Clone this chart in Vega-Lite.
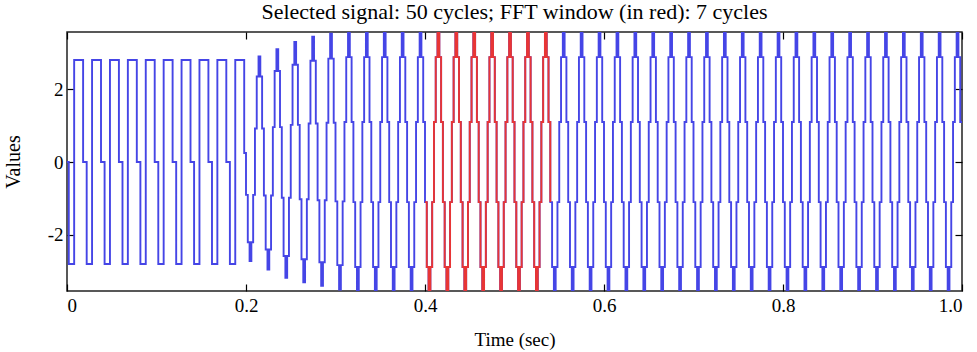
{
"$schema": "https://vega.github.io/schema/vega-lite/v6.json",
"width": 895, "height": 259,
"autosize": {"type": "none"},
"padding": {"left": 67, "top": 32, "right": 15, "bottom": 61},
"background": "white",
"title": {"text": "Selected signal: 50 cycles; FFT window (in red): 7 cycles", "font": "Liberation Serif", "fontSize": 22, "fontWeight": "normal", "color": "black", "offset": 7},
"config": {"view": {"stroke": "#222", "strokeWidth": 1.5}, "axis": {"labelFont": "Liberation Serif", "titleFont": "Liberation Serif", "labelFontSize": 19, "titleFontSize": 19, "titleFontWeight": "normal", "labelColor": "black", "titleColor": "black", "grid": false, "domain": false, "ticks": true, "tickColor": "black", "tickWidth": 1.2, "tickSize": 7, "offset": -7, "zindex": 2}},
"data": {"values": [
{"t":0.000,"v":0},{"t":0.002,"v":-2.8},{"t":0.004,"v":-2.8},{"t":0.006,"v":-2.8},{"t":0.008,"v":2.8},{"t":0.010,"v":2.8},{"t":0.012,"v":2.8},{"t":0.014,"v":2.8},{"t":0.016,"v":2.8},{"t":0.018,"v":0},
{"t":0.020,"v":0},{"t":0.022,"v":-2.8},{"t":0.024,"v":-2.8},{"t":0.026,"v":-2.8},{"t":0.028,"v":2.8},{"t":0.030,"v":2.8},{"t":0.032,"v":2.8},{"t":0.034,"v":2.8},{"t":0.036,"v":2.8},{"t":0.038,"v":0},
{"t":0.040,"v":0},{"t":0.042,"v":-2.8},{"t":0.044,"v":-2.8},{"t":0.046,"v":-2.8},{"t":0.048,"v":2.8},{"t":0.050,"v":2.8},{"t":0.052,"v":2.8},{"t":0.054,"v":2.8},{"t":0.056,"v":2.8},{"t":0.058,"v":0},
{"t":0.060,"v":0},{"t":0.062,"v":-2.8},{"t":0.064,"v":-2.8},{"t":0.066,"v":-2.8},{"t":0.068,"v":2.8},{"t":0.070,"v":2.8},{"t":0.072,"v":2.8},{"t":0.074,"v":2.8},{"t":0.076,"v":2.8},{"t":0.078,"v":0},
{"t":0.080,"v":0},{"t":0.082,"v":-2.8},{"t":0.084,"v":-2.8},{"t":0.086,"v":-2.8},{"t":0.088,"v":2.8},{"t":0.090,"v":2.8},{"t":0.092,"v":2.8},{"t":0.094,"v":2.8},{"t":0.096,"v":2.8},{"t":0.098,"v":0},
{"t":0.100,"v":0},{"t":0.102,"v":-2.8},{"t":0.104,"v":-2.8},{"t":0.106,"v":-2.8},{"t":0.108,"v":2.8},{"t":0.110,"v":2.8},{"t":0.112,"v":2.8},{"t":0.114,"v":2.8},{"t":0.116,"v":2.8},{"t":0.118,"v":0},
{"t":0.120,"v":0},{"t":0.122,"v":-2.8},{"t":0.124,"v":-2.8},{"t":0.126,"v":-2.8},{"t":0.128,"v":2.8},{"t":0.130,"v":2.8},{"t":0.132,"v":2.8},{"t":0.134,"v":2.8},{"t":0.136,"v":2.8},{"t":0.138,"v":0},
{"t":0.140,"v":0},{"t":0.142,"v":-2.8},{"t":0.144,"v":-2.8},{"t":0.146,"v":-2.8},{"t":0.148,"v":2.8},{"t":0.150,"v":2.8},{"t":0.152,"v":2.8},{"t":0.154,"v":2.8},{"t":0.156,"v":2.8},{"t":0.158,"v":0},
{"t":0.160,"v":0},{"t":0.162,"v":-2.8},{"t":0.164,"v":-2.8},{"t":0.166,"v":-2.8},{"t":0.168,"v":2.8},{"t":0.170,"v":2.8},{"t":0.172,"v":2.8},{"t":0.174,"v":2.8},{"t":0.176,"v":2.8},{"t":0.178,"v":0},
{"t":0.180,"v":0},{"t":0.182,"v":-2.8},{"t":0.184,"v":-2.8},{"t":0.186,"v":-2.8},{"t":0.188,"v":2.8},{"t":0.190,"v":2.8},{"t":0.192,"v":2.8},{"t":0.194,"v":2.8},{"t":0.196,"v":2.8},{"t":0.198,"v":0.25},
{"t":0.200,"v":-0.9},{"t":0.202,"v":-2.2},{"t":0.204,"v":-2.72},{"t":0.206,"v":-2.2},{"t":0.208,"v":-0.9},{"t":0.210,"v":0.92},{"t":0.212,"v":2.35},{"t":0.214,"v":2.9},{"t":0.216,"v":2.35},{"t":0.218,"v":0.92},
{"t":0.220,"v":-0.92},{"t":0.222,"v":-2.4},{"t":0.224,"v":-2.95},{"t":0.226,"v":-2.4},{"t":0.228,"v":-0.92},{"t":0.230,"v":0.96},{"t":0.232,"v":2.5},{"t":0.234,"v":3.1},{"t":0.236,"v":2.5},{"t":0.238,"v":0.96},
{"t":0.240,"v":-0.98},{"t":0.242,"v":-2.58},{"t":0.244,"v":-3.18},{"t":0.246,"v":-2.58},{"t":0.248,"v":-0.98},{"t":0.250,"v":1.02},{"t":0.252,"v":2.67},{"t":0.254,"v":3.3},{"t":0.256,"v":2.67},{"t":0.258,"v":1.02},
{"t":0.260,"v":-1.02},{"t":0.262,"v":-2.67},{"t":0.264,"v":-3.3},{"t":0.266,"v":-2.67},{"t":0.268,"v":-1.02},{"t":0.270,"v":1.06},{"t":0.272,"v":2.78},{"t":0.274,"v":3.44},{"t":0.276,"v":2.78},{"t":0.278,"v":1.06},
{"t":0.280,"v":-1.05},{"t":0.282,"v":-2.75},{"t":0.284,"v":-3.4},{"t":0.286,"v":-2.75},{"t":0.288,"v":-1.05},{"t":0.290,"v":1.08},{"t":0.292,"v":2.84},{"t":0.294,"v":3.52},{"t":0.296,"v":2.84},{"t":0.298,"v":1.08},
{"t":0.300,"v":-1.08},{"t":0.302,"v":-2.83},{"t":0.304,"v":-3.5},{"t":0.306,"v":-2.83},{"t":0.308,"v":-1.08},{"t":0.310,"v":1.1},{"t":0.312,"v":2.88},{"t":0.314,"v":3.56},{"t":0.316,"v":2.88},{"t":0.318,"v":1.1},
{"t":0.320,"v":-1.1},{"t":0.322,"v":-2.88},{"t":0.324,"v":-3.55},{"t":0.326,"v":-2.88},{"t":0.328,"v":-1.1},{"t":0.330,"v":1.1},{"t":0.332,"v":2.88},{"t":0.334,"v":3.56},{"t":0.336,"v":2.88},{"t":0.338,"v":1.1},
{"t":0.340,"v":-1.1},{"t":0.342,"v":-2.88},{"t":0.344,"v":-3.55},{"t":0.346,"v":-2.88},{"t":0.348,"v":-1.1},{"t":0.350,"v":1.1},{"t":0.352,"v":2.88},{"t":0.354,"v":3.56},{"t":0.356,"v":2.88},{"t":0.358,"v":1.1},
{"t":0.360,"v":-1.1},{"t":0.362,"v":-2.88},{"t":0.364,"v":-3.55},{"t":0.366,"v":-2.88},{"t":0.368,"v":-1.1},{"t":0.370,"v":1.1},{"t":0.372,"v":2.88},{"t":0.374,"v":3.56},{"t":0.376,"v":2.88},{"t":0.378,"v":1.1},
{"t":0.380,"v":-1.1},{"t":0.382,"v":-2.88},{"t":0.384,"v":-3.55},{"t":0.386,"v":-2.88},{"t":0.388,"v":-1.1},{"t":0.390,"v":1.1},{"t":0.392,"v":2.88},{"t":0.394,"v":3.56},{"t":0.396,"v":2.88},{"t":0.398,"v":1.1},
{"t":0.400,"v":-1.1},{"t":0.402,"v":-2.88},{"t":0.404,"v":-3.55},{"t":0.406,"v":-2.88},{"t":0.408,"v":-1.1},{"t":0.410,"v":1.1},{"t":0.412,"v":2.88},{"t":0.414,"v":3.56},{"t":0.416,"v":2.88},{"t":0.418,"v":1.1},
{"t":0.420,"v":-1.1},{"t":0.422,"v":-2.88},{"t":0.424,"v":-3.55},{"t":0.426,"v":-2.88},{"t":0.428,"v":-1.1},{"t":0.430,"v":1.1},{"t":0.432,"v":2.88},{"t":0.434,"v":3.56},{"t":0.436,"v":2.88},{"t":0.438,"v":1.1},
{"t":0.440,"v":-1.1},{"t":0.442,"v":-2.88},{"t":0.444,"v":-3.55},{"t":0.446,"v":-2.88},{"t":0.448,"v":-1.1},{"t":0.450,"v":1.1},{"t":0.452,"v":2.88},{"t":0.454,"v":3.56},{"t":0.456,"v":2.88},{"t":0.458,"v":1.1},
{"t":0.460,"v":-1.1},{"t":0.462,"v":-2.88},{"t":0.464,"v":-3.55},{"t":0.466,"v":-2.88},{"t":0.468,"v":-1.1},{"t":0.470,"v":1.1},{"t":0.472,"v":2.88},{"t":0.474,"v":3.56},{"t":0.476,"v":2.88},{"t":0.478,"v":1.1},
{"t":0.480,"v":-1.1},{"t":0.482,"v":-2.88},{"t":0.484,"v":-3.55},{"t":0.486,"v":-2.88},{"t":0.488,"v":-1.1},{"t":0.490,"v":1.1},{"t":0.492,"v":2.88},{"t":0.494,"v":3.56},{"t":0.496,"v":2.88},{"t":0.498,"v":1.1},
{"t":0.500,"v":-1.1},{"t":0.502,"v":-2.88},{"t":0.504,"v":-3.55},{"t":0.506,"v":-2.88},{"t":0.508,"v":-1.1},{"t":0.510,"v":1.1},{"t":0.512,"v":2.88},{"t":0.514,"v":3.56},{"t":0.516,"v":2.88},{"t":0.518,"v":1.1},
{"t":0.520,"v":-1.1},{"t":0.522,"v":-2.88},{"t":0.524,"v":-3.55},{"t":0.526,"v":-2.88},{"t":0.528,"v":-1.1},{"t":0.530,"v":1.1},{"t":0.532,"v":2.88},{"t":0.534,"v":3.56},{"t":0.536,"v":2.88},{"t":0.538,"v":1.1},
{"t":0.540,"v":-1.1},{"t":0.542,"v":-2.88},{"t":0.544,"v":-3.55},{"t":0.546,"v":-2.88},{"t":0.548,"v":-1.1},{"t":0.550,"v":1.1},{"t":0.552,"v":2.88},{"t":0.554,"v":3.56},{"t":0.556,"v":2.88},{"t":0.558,"v":1.1},
{"t":0.560,"v":-1.1},{"t":0.562,"v":-2.88},{"t":0.564,"v":-3.55},{"t":0.566,"v":-2.88},{"t":0.568,"v":-1.1},{"t":0.570,"v":1.1},{"t":0.572,"v":2.88},{"t":0.574,"v":3.56},{"t":0.576,"v":2.88},{"t":0.578,"v":1.1},
{"t":0.580,"v":-1.1},{"t":0.582,"v":-2.88},{"t":0.584,"v":-3.55},{"t":0.586,"v":-2.88},{"t":0.588,"v":-1.1},{"t":0.590,"v":1.1},{"t":0.592,"v":2.88},{"t":0.594,"v":3.56},{"t":0.596,"v":2.88},{"t":0.598,"v":1.1},
{"t":0.600,"v":-1.1},{"t":0.602,"v":-2.88},{"t":0.604,"v":-3.55},{"t":0.606,"v":-2.88},{"t":0.608,"v":-1.1},{"t":0.610,"v":1.1},{"t":0.612,"v":2.88},{"t":0.614,"v":3.56},{"t":0.616,"v":2.88},{"t":0.618,"v":1.1},
{"t":0.620,"v":-1.1},{"t":0.622,"v":-2.88},{"t":0.624,"v":-3.55},{"t":0.626,"v":-2.88},{"t":0.628,"v":-1.1},{"t":0.630,"v":1.1},{"t":0.632,"v":2.88},{"t":0.634,"v":3.56},{"t":0.636,"v":2.88},{"t":0.638,"v":1.1},
{"t":0.640,"v":-1.1},{"t":0.642,"v":-2.88},{"t":0.644,"v":-3.55},{"t":0.646,"v":-2.88},{"t":0.648,"v":-1.1},{"t":0.650,"v":1.1},{"t":0.652,"v":2.88},{"t":0.654,"v":3.56},{"t":0.656,"v":2.88},{"t":0.658,"v":1.1},
{"t":0.660,"v":-1.1},{"t":0.662,"v":-2.88},{"t":0.664,"v":-3.55},{"t":0.666,"v":-2.88},{"t":0.668,"v":-1.1},{"t":0.670,"v":1.1},{"t":0.672,"v":2.88},{"t":0.674,"v":3.56},{"t":0.676,"v":2.88},{"t":0.678,"v":1.1},
{"t":0.680,"v":-1.1},{"t":0.682,"v":-2.88},{"t":0.684,"v":-3.55},{"t":0.686,"v":-2.88},{"t":0.688,"v":-1.1},{"t":0.690,"v":1.1},{"t":0.692,"v":2.88},{"t":0.694,"v":3.56},{"t":0.696,"v":2.88},{"t":0.698,"v":1.1},
{"t":0.700,"v":-1.1},{"t":0.702,"v":-2.88},{"t":0.704,"v":-3.55},{"t":0.706,"v":-2.88},{"t":0.708,"v":-1.1},{"t":0.710,"v":1.1},{"t":0.712,"v":2.88},{"t":0.714,"v":3.56},{"t":0.716,"v":2.88},{"t":0.718,"v":1.1},
{"t":0.720,"v":-1.1},{"t":0.722,"v":-2.88},{"t":0.724,"v":-3.55},{"t":0.726,"v":-2.88},{"t":0.728,"v":-1.1},{"t":0.730,"v":1.1},{"t":0.732,"v":2.88},{"t":0.734,"v":3.56},{"t":0.736,"v":2.88},{"t":0.738,"v":1.1},
{"t":0.740,"v":-1.1},{"t":0.742,"v":-2.88},{"t":0.744,"v":-3.55},{"t":0.746,"v":-2.88},{"t":0.748,"v":-1.1},{"t":0.750,"v":1.1},{"t":0.752,"v":2.88},{"t":0.754,"v":3.56},{"t":0.756,"v":2.88},{"t":0.758,"v":1.1},
{"t":0.760,"v":-1.1},{"t":0.762,"v":-2.88},{"t":0.764,"v":-3.55},{"t":0.766,"v":-2.88},{"t":0.768,"v":-1.1},{"t":0.770,"v":1.1},{"t":0.772,"v":2.88},{"t":0.774,"v":3.56},{"t":0.776,"v":2.88},{"t":0.778,"v":1.1},
{"t":0.780,"v":-1.1},{"t":0.782,"v":-2.88},{"t":0.784,"v":-3.55},{"t":0.786,"v":-2.88},{"t":0.788,"v":-1.1},{"t":0.790,"v":1.1},{"t":0.792,"v":2.88},{"t":0.794,"v":3.56},{"t":0.796,"v":2.88},{"t":0.798,"v":1.1},
{"t":0.800,"v":-1.1},{"t":0.802,"v":-2.88},{"t":0.804,"v":-3.55},{"t":0.806,"v":-2.88},{"t":0.808,"v":-1.1},{"t":0.810,"v":1.1},{"t":0.812,"v":2.88},{"t":0.814,"v":3.56},{"t":0.816,"v":2.88},{"t":0.818,"v":1.1},
{"t":0.820,"v":-1.1},{"t":0.822,"v":-2.88},{"t":0.824,"v":-3.55},{"t":0.826,"v":-2.88},{"t":0.828,"v":-1.1},{"t":0.830,"v":1.1},{"t":0.832,"v":2.88},{"t":0.834,"v":3.56},{"t":0.836,"v":2.88},{"t":0.838,"v":1.1},
{"t":0.840,"v":-1.1},{"t":0.842,"v":-2.88},{"t":0.844,"v":-3.55},{"t":0.846,"v":-2.88},{"t":0.848,"v":-1.1},{"t":0.850,"v":1.1},{"t":0.852,"v":2.88},{"t":0.854,"v":3.56},{"t":0.856,"v":2.88},{"t":0.858,"v":1.1},
{"t":0.860,"v":-1.1},{"t":0.862,"v":-2.88},{"t":0.864,"v":-3.55},{"t":0.866,"v":-2.88},{"t":0.868,"v":-1.1},{"t":0.870,"v":1.1},{"t":0.872,"v":2.88},{"t":0.874,"v":3.56},{"t":0.876,"v":2.88},{"t":0.878,"v":1.1},
{"t":0.880,"v":-1.1},{"t":0.882,"v":-2.88},{"t":0.884,"v":-3.55},{"t":0.886,"v":-2.88},{"t":0.888,"v":-1.1},{"t":0.890,"v":1.1},{"t":0.892,"v":2.88},{"t":0.894,"v":3.56},{"t":0.896,"v":2.88},{"t":0.898,"v":1.1},
{"t":0.900,"v":-1.1},{"t":0.902,"v":-2.88},{"t":0.904,"v":-3.55},{"t":0.906,"v":-2.88},{"t":0.908,"v":-1.1},{"t":0.910,"v":1.1},{"t":0.912,"v":2.88},{"t":0.914,"v":3.56},{"t":0.916,"v":2.88},{"t":0.918,"v":1.1},
{"t":0.920,"v":-1.1},{"t":0.922,"v":-2.88},{"t":0.924,"v":-3.55},{"t":0.926,"v":-2.88},{"t":0.928,"v":-1.1},{"t":0.930,"v":1.1},{"t":0.932,"v":2.88},{"t":0.934,"v":3.56},{"t":0.936,"v":2.88},{"t":0.938,"v":1.1},
{"t":0.940,"v":-1.1},{"t":0.942,"v":-2.88},{"t":0.944,"v":-3.55},{"t":0.946,"v":-2.88},{"t":0.948,"v":-1.1},{"t":0.950,"v":1.1},{"t":0.952,"v":2.88},{"t":0.954,"v":3.56},{"t":0.956,"v":2.88},{"t":0.958,"v":1.1},
{"t":0.960,"v":-1.1},{"t":0.962,"v":-2.88},{"t":0.964,"v":-3.55},{"t":0.966,"v":-2.88},{"t":0.968,"v":-1.1},{"t":0.970,"v":1.1},{"t":0.972,"v":2.88},{"t":0.974,"v":3.56},{"t":0.976,"v":2.88},{"t":0.978,"v":1.1},
{"t":0.980,"v":-1.1},{"t":0.982,"v":-2.88},{"t":0.984,"v":-3.55},{"t":0.986,"v":-2.88},{"t":0.988,"v":-1.1},{"t":0.990,"v":1.1},{"t":0.992,"v":2.88},{"t":0.994,"v":3.56},{"t":0.996,"v":2.88},{"t":0.998,"v":1.1},
{"t":1.000,"v":1.1}
]},
"layer": [
{"mark": {"type": "line", "interpolate": "step-after", "color": "#4545e6", "strokeWidth": 1.9, "clip": true},
 "encoding": {
  "x": {"field": "t", "type": "quantitative", "scale": {"domain": [0, 1], "nice": false}, "axis": {"values": [0, 0.2, 0.4, 0.6, 0.8, 1], "labelExpr": "datum.value == 0 ? '0' : format(datum.value, '.1f')", "title": "Time (sec)", "labelPadding": 5, "titlePadding": 15}},
  "y": {"field": "v", "type": "quantitative", "scale": {"domain": [-3.54, 3.57], "nice": false, "zero": false}, "axis": {"values": [-2, 0, 2], "labelExpr": "datum.value < 0 ? '-' + abs(datum.value) : '' + datum.value", "title": "Values", "labelPadding": 4, "titlePadding": 24, "titleFontSize": 20}}}},
{"transform": [{"filter": "datum.t >= 0.4 && datum.t <= 0.54"}],
 "mark": {"type": "line", "interpolate": "step-after", "color": "#e83535", "strokeWidth": 1.9, "clip": true},
 "encoding": {
  "x": {"field": "t", "type": "quantitative", "axis": null},
  "y": {"field": "v", "type": "quantitative", "axis": null}}},
{"transform": [{"filter": "datum.t <= 0.002"}],
 "mark": {"type": "point", "opacity": 0},
 "encoding": {
  "x": {"field": "t", "type": "quantitative", "axis": {"orient": "top", "values": [0, 0.2, 0.4, 0.6, 0.8, 1], "labels": false, "title": null}},
  "y": {"field": "v", "type": "quantitative", "axis": {"orient": "right", "values": [-2, 0, 2], "labels": false, "title": null}}}}
],
"resolve": {"axis": {"x": "independent", "y": "independent"}}
}
